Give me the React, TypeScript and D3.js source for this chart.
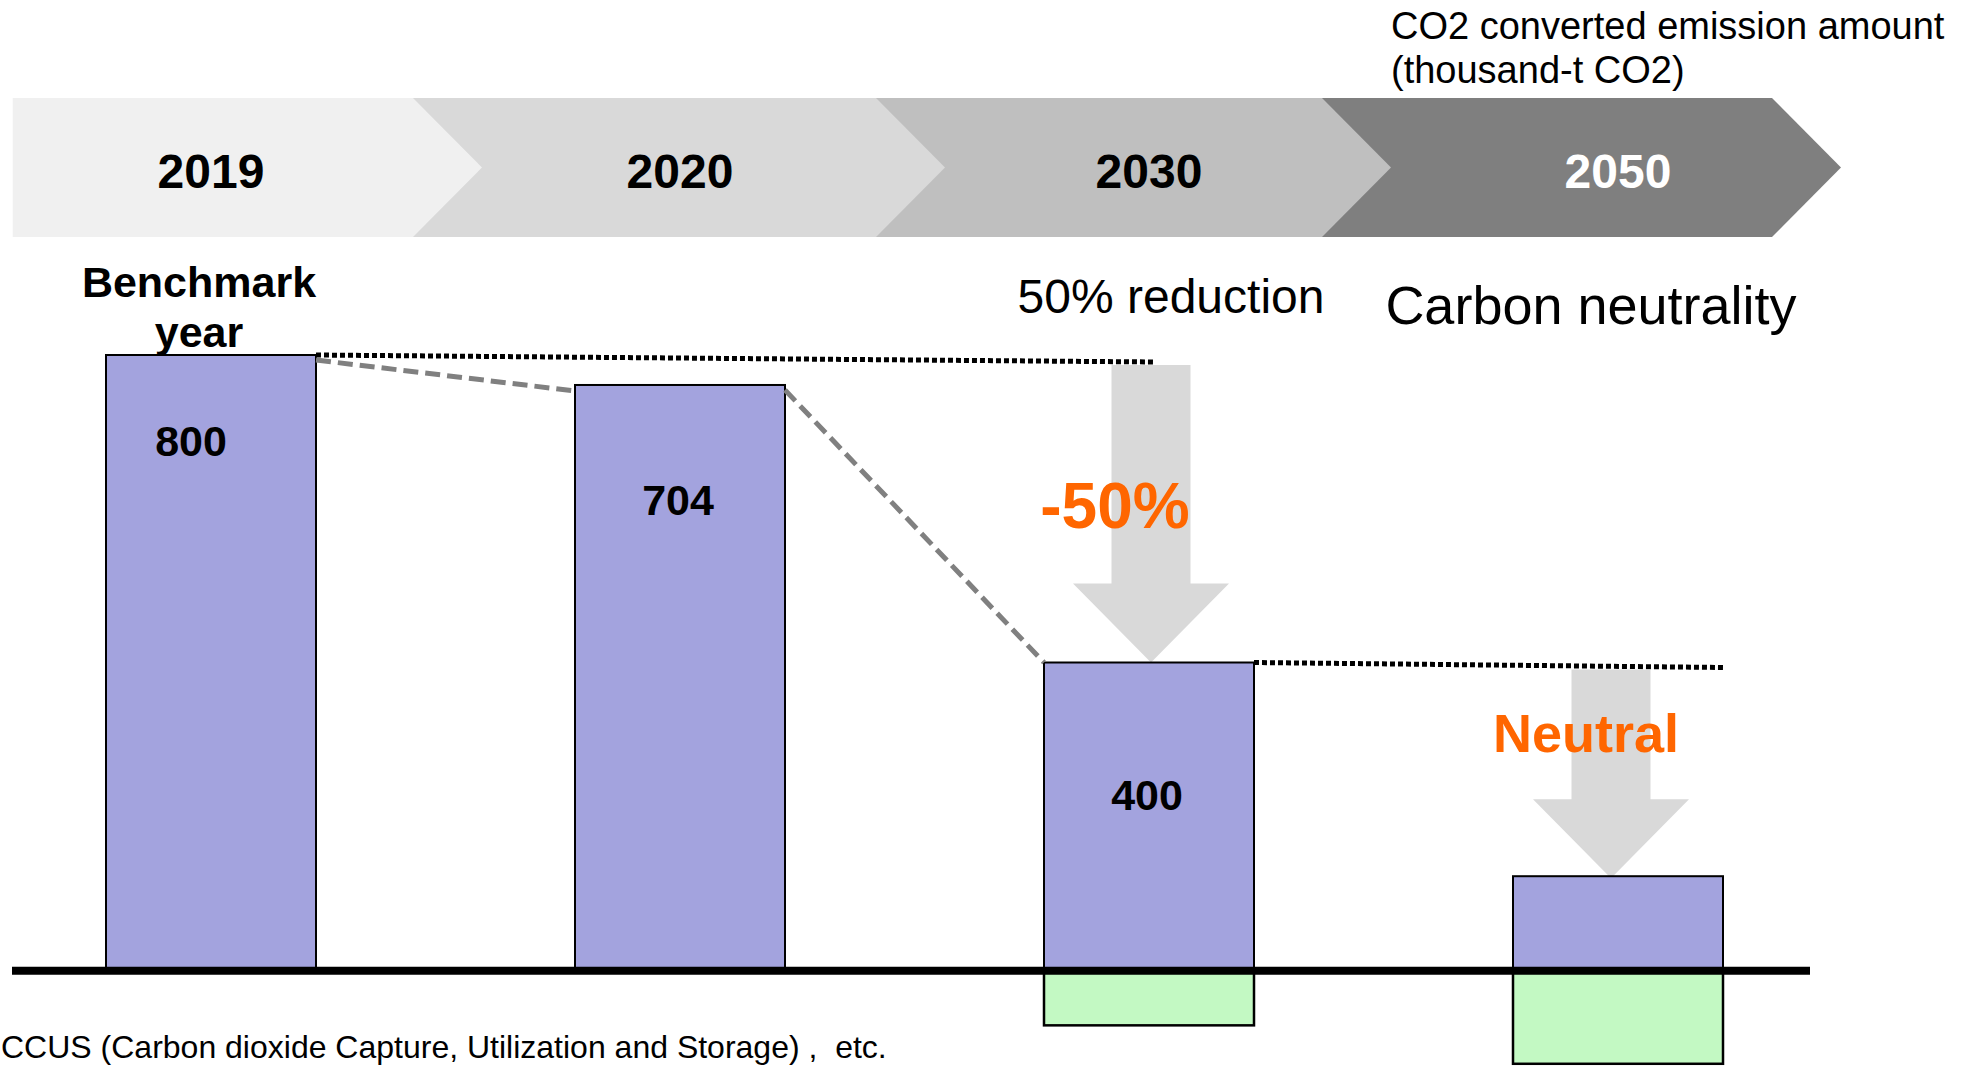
import React from 'react';
import * as d3 from 'd3';

// categories and values
const years = ['2019', '2020', '2030', '2050'];
// bar lengths as drawn in the reference (the 2020 bar is drawn a bit taller than its 704 label)
const emissions = [800, 761, 400, 122];
const valueLabels = ['800', '704', '400', ''];
// removals (CCUS etc.) drawn below the baseline
const removals = [0, 0, 72, 122];
const unitLines = ['CO2 converted emission amount', '(thousand-t CO2)'];
const benchmarkLines = ['Benchmark', 'year'];
const targetNotes = ['50% reduction', 'Carbon neutrality'];
const arrowLabels = ['-50%', 'Neutral'];
const footnote = 'CCUS (Carbon dioxide Capture, Utilization and Storage) ,  etc.';

const W = 1971;
const H = 1067;
const font = "'Liberation Sans', Arial, Helvetica, sans-serif";

// timeline banner layout
const bannerEdges = [12.7, 413, 876, 1322, 1772];
const bannerFills = ['#f0f0f0', '#d9d9d9', '#bfbfbf', '#7f7f7f'];
const bannerInk = ['#000', '#000', '#000', '#fff'];
const bannerTop = 98;
const bannerBottom = 237;
const tipDepth = 69;

const barW = 210;
const labelDrop = [101, 130, 147, 0];
const labelDx = [-20, -2, -2, 0];

const App = () => {
  const x = d3.scalePoint<string>().domain(years).range([211, 1618]);
  const y = d3.scaleLinear().domain([0, 800]).range([970, 355]);

  const cx = (i: number) => x(years[i]) as number;
  const top = (i: number) => y(emissions[i]);

  const arrowPath = (c: number, y0: number, y1: number) => {
    const p = d3.path();
    p.moveTo(c - 39.5, y0);
    p.lineTo(c + 39.5, y0);
    p.lineTo(c + 39.5, y1 - 79);
    p.lineTo(c + 78, y1 - 79);
    p.lineTo(c, y1);
    p.lineTo(c - 78, y1 - 79);
    p.lineTo(c - 39.5, y1 - 79);
    p.closePath();
    return p.toString();
  };

  const arrows = [
    { c: cx(2) + 2, y0: y(emissions[0]) + 10, y1: top(2), label: arrowLabels[0], dx: -36, dy: -135, size: 64 },
    { c: cx(3) - 7, y0: y(emissions[2]) + 7, y1: top(3) + 2, label: arrowLabels[1], dx: -25, dy: -126, size: 54 },
  ];

  const line = d3.line<[number, number]>();

  return (
    <svg width={W} height={H} style={{ position: 'absolute', left: 0, top: 0, background: '#fff' }} fontFamily={font}>
      {/* timeline banner, drawn right to left so each tip sits over the next segment */}
      {years
        .map((yr, i) => {
          const l = bannerEdges[i];
          const r = bannerEdges[i + 1];
          const mid = (bannerTop + bannerBottom) / 2;
          const d = `M${l},${bannerTop}L${r},${bannerTop}L${r + tipDepth},${mid}L${r},${bannerBottom}L${l},${bannerBottom}Z`;
          return <path key={yr} d={d} fill={bannerFills[i]} />;
        })
        .reverse()}
      {years.map((yr, i) => (
        <text key={yr} x={cx(i)} y={188} textAnchor="middle" fontSize={48} fontWeight="bold" fill={bannerInk[i]}>
          {yr}
        </text>
      ))}

      {/* unit */}
      {unitLines.map((t, i) => (
        <text key={t} x={1391} y={39 + i * 44} fontSize={38} fill="#000">
          {t}
        </text>
      ))}

      {/* reference levels */}
      <path
        d={line([[cx(0) + barW / 2, y(emissions[0])], [arrows[0].c + 4, y(emissions[0]) + 7]]) || ''}
        stroke="#000" strokeWidth={5} strokeDasharray="5 3" fill="none"
      />
      <path
        d={line([[cx(2) + barW / 2, y(emissions[2])], [cx(3) + barW / 2 + 1, y(emissions[2]) + 5]]) || ''}
        stroke="#000" strokeWidth={5} strokeDasharray="5 3" fill="none"
      />

      {/* arrows */}
      {arrows.map((a) => (
        <path key={a.label} d={arrowPath(a.c, a.y0, a.y1)} fill="#d9d9d9" />
      ))}

      {/* emission bars */}
      {years.map((yr, i) => (
        <rect key={yr} x={cx(i) - barW / 2} y={top(i)} width={barW} height={y(0) - top(i)}
          fill="#a3a3de" stroke="#000" strokeWidth={2} />
      ))}

      {/* removals */}
      {years.map((yr, i) =>
        removals[i] > 0 ? (
          <rect key={yr} x={cx(i) - barW / 2} y={y(0)} width={barW} height={y(-removals[i]) - y(0)}
            fill="#c3f9c3" stroke="#000" strokeWidth={2.5} />
        ) : null
      )}

      {/* trend */}
      {[0, 1].map((i) => (
        <path key={i}
          d={line([[cx(i) + barW / 2, top(i) + 5], [cx(i + 1) - barW / 2, top(i + 1) + (i === 0 ? 6 : 0)]]) || ''}
          stroke="#808080" strokeWidth={5} strokeDasharray="15 7" fill="none" />
      ))}

      {/* baseline */}
      <line x1={12} x2={1810} y1={y(0) + 0.7} y2={y(0) + 0.7} stroke="#000" strokeWidth={8} />

      {/* value labels */}
      {valueLabels.map((t, i) =>
        t ? (
          <text key={i} x={cx(i) + labelDx[i]} y={top(i) + labelDrop[i]} textAnchor="middle" fontSize={43} fontWeight="bold">
            {t}
          </text>
        ) : null
      )}

      {/* notes */}
      {benchmarkLines.map((t, i) => (
        <text key={t} x={cx(0) - 12} y={top(0) - 58 + i * 50} textAnchor="middle" fontSize={43} fontWeight="bold">
          {t}
        </text>
      ))}
      <text x={cx(2) + 22} y={313} textAnchor="middle" fontSize={48}>{targetNotes[0]}</text>
      <text x={cx(3) - 27} y={324} textAnchor="middle" fontSize={54}>{targetNotes[1]}</text>

      {arrows.map((a) => (
        <text key={a.label} x={a.c + a.dx} y={a.y1 + a.dy} textAnchor="middle" fontSize={a.size}
          fontWeight="bold" fill="#ff6600">
          {a.label}
        </text>
      ))}

      <text x={1} y={1058} fontSize={32} style={{ whiteSpace: 'pre' }}>{footnote}</text>
    </svg>
  );
};

export default App;
